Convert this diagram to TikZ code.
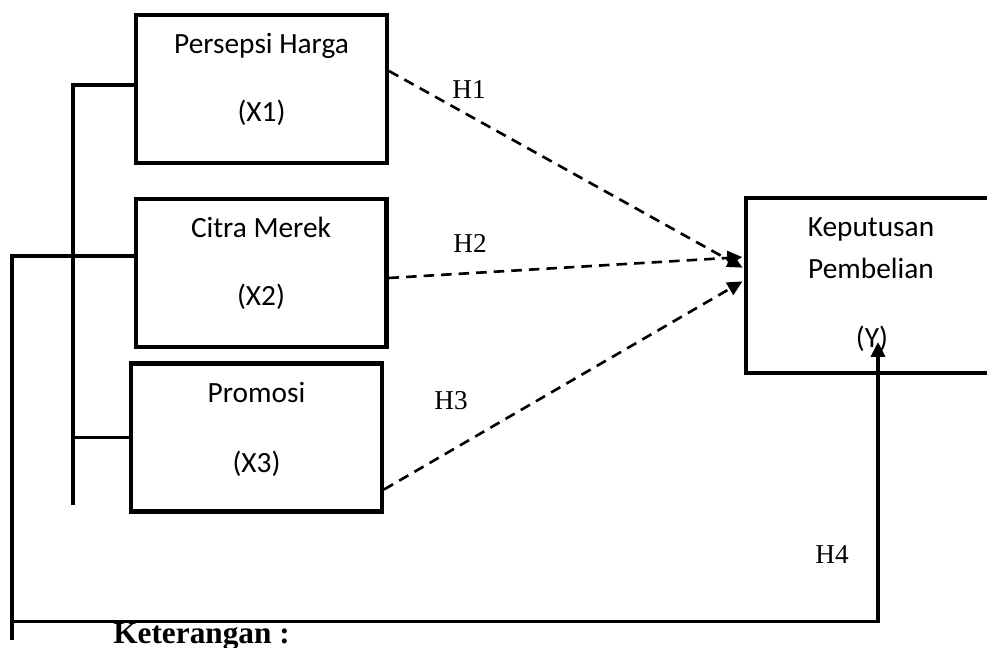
\documentclass[tikz,border=0pt]{standalone}
\usepackage{fontspec}
\setmainfont{Liberation Serif}
\newfontfamily\carlito{Carlito}
\usetikzlibrary{arrows.meta,calc}

\begin{document}
\begin{tikzpicture}[x=0.02cm, y=-0.02cm,
   >={Triangle[length=8.5pt,width=8pt]},
   varbox/.style={draw, line width=2.3pt, minimum width=5.02cm, minimum height=2.96cm, inner sep=0pt},
   boxtext/.style={anchor=base, inner sep=0pt, font=\carlito\fontsize{16.7}{19}\selectfont},
   hyplabel/.style={anchor=base, inner sep=0pt, font=\fontsize{15.5}{18}\selectfont},
   link/.style={line width=1.9pt},
   hyp/.style={->, line width=1.5pt, dash pattern=on 6pt off 4pt, shorten >=1pt}]
   \useasboundingbox (0,0) rectangle (987,648);

   \node[varbox] (x1) at (261.5,89) {};
   \node[varbox] (x2) at (261,273) {};
   \node[varbox] (x3) at (256.5,437.5) {};
   \node[varbox, minimum width=5cm, minimum height=3.5cm] (y) at (871,285.5) {};

   \node[boxtext] (x1a) at (261.5,54)  {Persepsi Harga};
   \node[boxtext] (x1b) at (261.5,122) {(X1)};
   \node[boxtext] (x2a) at (261,238)   {Citra Merek};
   \node[boxtext] (x2b) at (261,306)   {(X2)};
   \node[boxtext] (x3a) at (256.5,402) {Promosi};
   \node[boxtext] (x3b) at (256.5,472) {(X3)};
   \node[boxtext] (ya)  at (871,237)   {Keputusan};
   \node[boxtext] (yb)  at (871,279)   {Pembelian};
   \node[boxtext] (yc)  at (872,348)   {(Y)};

   \node[hyplabel] (h1) at (469,99)  {H1};
   \node[hyplabel] (h2) at (470,253) {H2};
   \node[hyplabel] (h3) at (451,409) {H3};
   \node[hyplabel] (h4) at (832,563) {H4};
   \node[anchor=base west, inner sep=0pt, font=\bfseries\fontsize{17.8}{20}\selectfont] (note) at (113,643) {Keterangan :};

   \coordinate (bustop) at (73,85);
   \coordinate (busend) at (73,505);
   \coordinate (outtop) at (12,256);
   \coordinate (outend) at (12,640);
   \coordinate (loopcorner) at (878,621.5);
   \coordinate (ytip) at (878,342);

   \draw[link] (x1.west |- bustop) -- (bustop) -- (busend);
   \draw[link] (bustop |- x3.west) -- (x3.west);
   \draw[link] (x2.west |- outtop) -- (outtop) -- (outend);
   \draw[link, ->] (outtop |- loopcorner) -- (loopcorner) -- (ytip);

   \draw[hyp] ($(x1.east)+(0,-18)$) -- ($(y.west)+(0,-17)$);
   \draw[hyp] ($(x2.east)+(0,5)$)   -- ($(y.west)+(0,-28.5)$);
   \draw[hyp] ($(x3.east)+(0,52)$)  -- ($(y.west)+(0,-5)$);
\end{tikzpicture}
\end{document}
